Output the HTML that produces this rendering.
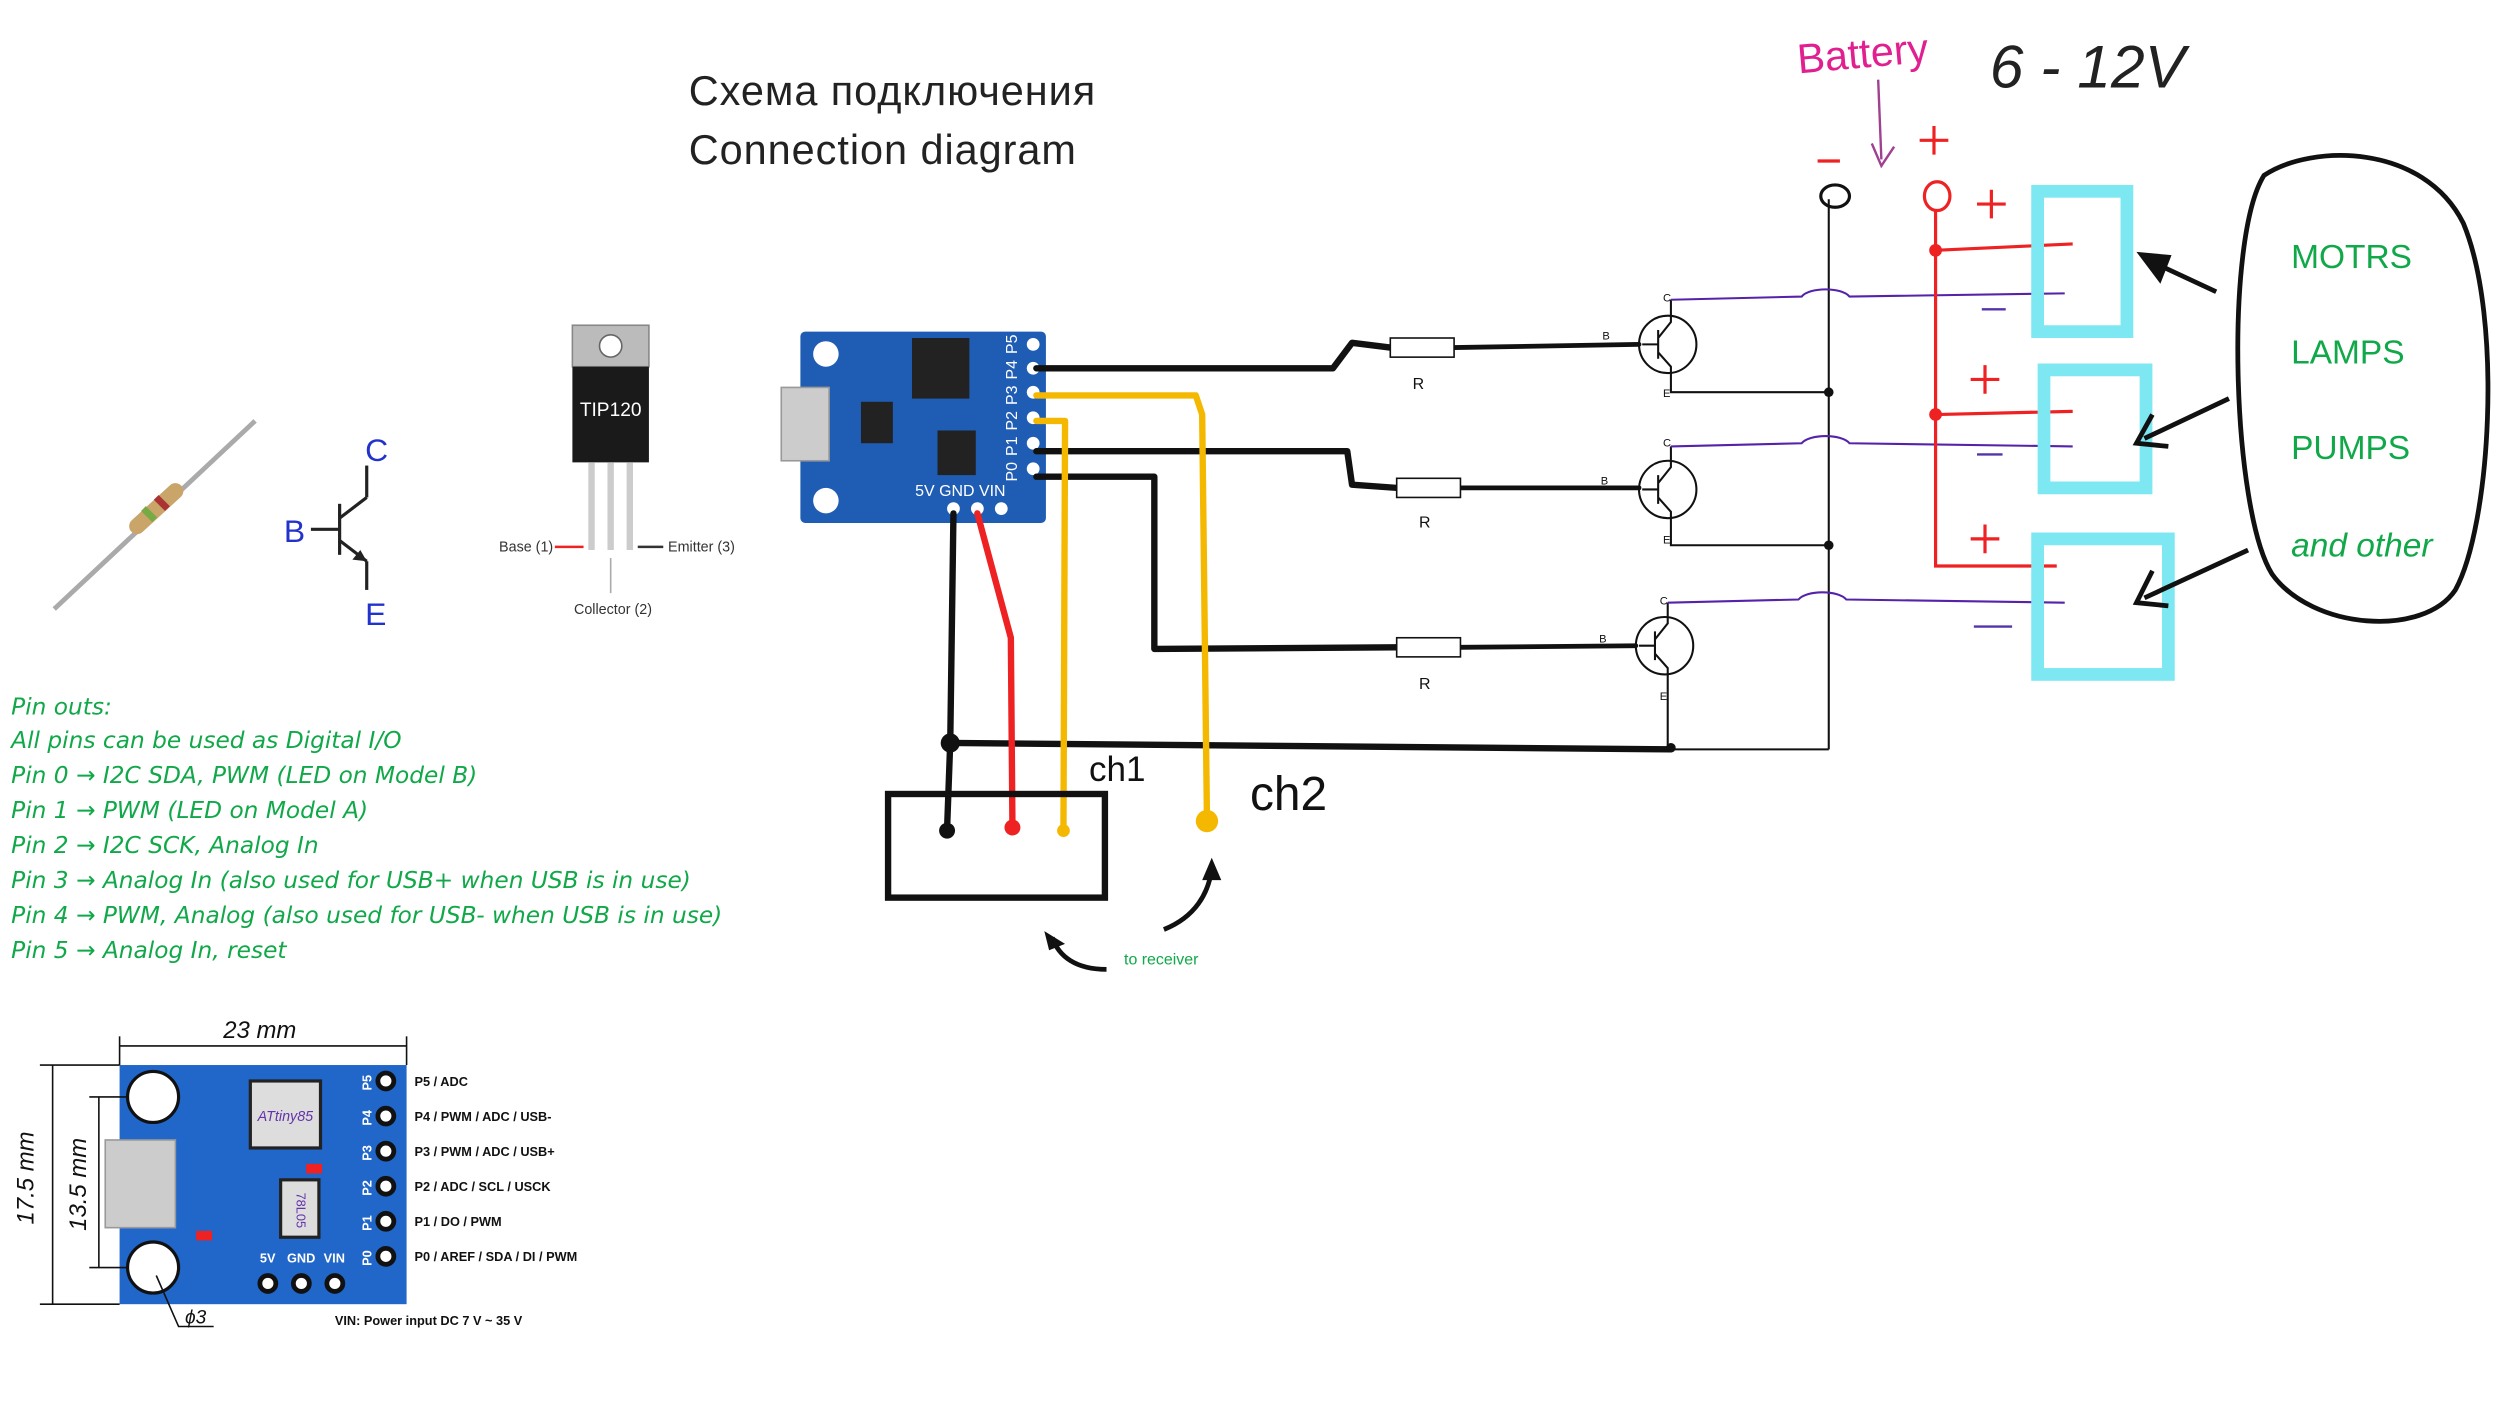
<!DOCTYPE html>
<html><head><meta charset="utf-8"><style>
html,body{margin:0;padding:0;background:#fff;}
svg{display:block}
text{font-family:"Liberation Sans",sans-serif}
.g{fill:#11a84a;font-family:"DejaVu Sans","Liberation Sans",sans-serif;font-size:14.6px;font-style:italic}
</style></head><body>
<svg width="2500" height="1404" viewBox="0 0 1568 880.6" xmlns="http://www.w3.org/2000/svg">
<rect width="1568" height="881" fill="#fff"/>
<!-- title -->
<text x="432" y="66" font-size="26" fill="#222" letter-spacing="0.6">Схема подключения</text>
<text x="432" y="103" font-size="26" fill="#222" letter-spacing="0.6">Connection diagram</text>

<!-- resistor image -->
<line x1="34" y1="382" x2="160" y2="264" stroke="#aaa" stroke-width="3"/>
<line x1="86" y1="330" x2="110" y2="308" stroke="#c9a56a" stroke-width="10" stroke-linecap="round"/>
<line x1="92" y1="324" x2="95" y2="321" stroke="#7a4" stroke-width="10"/>
<line x1="100" y1="317" x2="103" y2="314" stroke="#a33" stroke-width="10"/>

<!-- transistor symbol -->
<g stroke="#222" stroke-width="2" fill="none">
<line x1="195" y1="332" x2="213" y2="332"/>
<line x1="213" y1="316" x2="213" y2="348"/>
<line x1="213" y1="325" x2="230" y2="312"/><line x1="230" y1="312" x2="230" y2="292"/>
<line x1="213" y1="339" x2="230" y2="352"/><line x1="230" y1="352" x2="230" y2="370"/>
</g>
<polygon points="230,352 221,351 226,345" fill="#222"/>
<text x="229" y="289" font-size="20" fill="#2233cc">C</text>
<text x="178" y="340" font-size="20" fill="#2233cc">B</text>
<text x="229" y="392" font-size="20" fill="#2233cc">E</text>

<!-- TIP120 -->
<rect x="359" y="204" width="48" height="26" fill="#bbb" stroke="#888"/>
<circle cx="383" cy="217" r="7" fill="#fff" stroke="#666"/>
<rect x="359" y="230" width="48" height="60" fill="#1a1a1a"/>
<text x="383" y="261" font-size="12" fill="#fff" text-anchor="middle" font-family="Liberation Serif">TIP120</text>
<g stroke="#ccc" stroke-width="4"><line x1="371" y1="290" x2="371" y2="345"/><line x1="383" y1="290" x2="383" y2="345"/><line x1="395" y1="290" x2="395" y2="345"/></g>
<text x="313" y="346" font-size="9" fill="#333">Base (1)</text>
<line x1="348" y1="343" x2="366" y2="343" stroke="#e22" stroke-width="1.5"/>
<text x="419" y="346" font-size="9" fill="#333">Emitter (3)</text>
<line x1="400" y1="343" x2="416" y2="343" stroke="#333" stroke-width="1.5"/>
<text x="360" y="385" font-size="9" fill="#333">Collector (2)</text>
<line x1="383" y1="350" x2="383" y2="372" stroke="#aaa"/>

<!-- digispark board -->
<rect x="502" y="208" width="154" height="120" fill="#1f5db5" rx="3"/>
<rect x="490" y="243" width="30" height="46" fill="#ccc" stroke="#999"/>
<circle cx="518" cy="222" r="8" fill="#fff"/><circle cx="518" cy="314" r="8" fill="#fff"/>
<rect x="572" y="212" width="36" height="38" fill="#222"/>
<rect x="540" y="252" width="20" height="26" fill="#222"/>
<rect x="588" y="270" width="24" height="28" fill="#222"/>
<g fill="#fff"><circle cx="648" cy="216" r="4"/><circle cx="648" cy="231" r="4"/><circle cx="648" cy="246" r="4"/><circle cx="648" cy="262" r="4"/><circle cx="648" cy="278" r="4"/><circle cx="648" cy="294" r="4"/>
<circle cx="598" cy="319" r="4"/><circle cx="613" cy="319" r="4"/><circle cx="628" cy="319" r="4"/></g>
<g font-size="10" fill="#fff">
<text transform="translate(638,222) rotate(-90)">P5</text>
<text transform="translate(638,238) rotate(-90)">P4</text>
<text transform="translate(638,254) rotate(-90)">P3</text>
<text transform="translate(638,270) rotate(-90)">P2</text>
<text transform="translate(638,286) rotate(-90)">P1</text>
<text transform="translate(638,302) rotate(-90)">P0</text>
<text x="574" y="311">5V GND VIN</text></g>

<!-- wires -->
<g fill="none" stroke-linecap="round" stroke-linejoin="round">
<path d="M650,231 L836,231 L848,215 L872,218" stroke="#111" stroke-width="4"/>
<path d="M912,218 L1028,216" stroke="#111" stroke-width="3"/>
<path d="M650,283 L845,283 L848,304 L876,306" stroke="#111" stroke-width="4"/>
<path d="M916,306 L1028,306" stroke="#111" stroke-width="3"/>
<path d="M650,299 L724,299 L724,407 L876,406" stroke="#111" stroke-width="4"/>
<path d="M916,406 L1026,405" stroke="#111" stroke-width="3"/>
<path d="M598,322 L596,465 L594,520" stroke="#111" stroke-width="4"/>
<path d="M596,466 L1048,470" stroke="#111" stroke-width="4"/>
<path d="M613,322 L634,400 L635,518" stroke="#e22" stroke-width="4"/>
<path d="M650,248 L750,248 L754,260 L757,514" stroke="#f5b800" stroke-width="4"/>
<path d="M650,264 L668,264 L667,520" stroke="#f5b800" stroke-width="4"/>
</g>
<circle cx="594" cy="521" r="5" fill="#111"/><circle cx="635" cy="519" r="5" fill="#e22"/>
<circle cx="667" cy="521" r="4" fill="#f5b800"/><circle cx="757" cy="515" r="7" fill="#f5b800"/>
<circle cx="596" cy="466" r="6" fill="#111"/>
<rect x="557" y="498" width="136" height="65" fill="none" stroke="#111" stroke-width="4"/>
<text x="683" y="490" font-size="22" fill="#111" font-family="DejaVu Sans">ch1</text>
<text x="784" y="508" font-size="30" fill="#111" font-family="DejaVu Sans">ch2</text>
<path d="M694,608 C675,608 664,600 660,588" stroke="#111" stroke-width="3" fill="none"/>
<polygon points="655,584 668,592 658,596" fill="#111"/>
<path d="M730,583 C750,575 758,560 760,545" stroke="#111" stroke-width="3" fill="none"/>
<polygon points="760,538 766,552 754,552" fill="#111"/>
<text x="705" y="605" font-size="10" fill="#11a84a">to    receiver</text>

<!-- resistors -->
<g fill="#fff" stroke="#111" stroke-width="1"><rect x="872" y="212" width="40" height="12"/><rect x="876" y="300" width="40" height="12"/><rect x="876" y="400" width="40" height="12"/></g>
<g font-size="10" fill="#111" font-family="Liberation Serif"><text x="886" y="244">R</text><text x="890" y="331">R</text><text x="890" y="432">R</text></g>

<!-- transistors -->
<g fill="none" stroke="#111" stroke-width="1.3">
<circle cx="1046" cy="216" r="18"/><circle cx="1046" cy="307" r="18"/><circle cx="1044" cy="405" r="18"/>
<path d="M1030,216 H1040 M1040,207 V225 M1040,212 L1048,202 V188 M1040,221 L1048,230 V246 H1147"/>
<path d="M1030,307 H1040 M1040,298 V316 M1040,303 L1048,293 V280 M1040,312 L1048,321 V342 H1147"/>
<path d="M1028,405 H1038 M1038,396 V414 M1038,401 L1046,391 V378 M1038,410 L1046,419 V468"/>
<line x1="1147" y1="125" x2="1147" y2="470"/>
<line x1="1048" y1="470" x2="1147" y2="470"/>
</g>
<g font-size="7" fill="#111"><text x="1043" y="189">C</text><text x="1005" y="213">B</text><text x="1043" y="249">E</text>
<text x="1043" y="280">C</text><text x="1004" y="304">B</text><text x="1043" y="341">E</text>
<text x="1041" y="379">C</text><text x="1003" y="403">B</text><text x="1041" y="439">E</text></g>
<circle cx="1147" cy="246" r="3" fill="#111"/><circle cx="1147" cy="342" r="3" fill="#111"/><circle cx="1048" cy="469" r="3" fill="#111"/>
<ellipse cx="1151" cy="123" rx="9" ry="7" fill="none" stroke="#111" stroke-width="2"/>

<!-- purple collector wires -->
<g fill="none" stroke="#5522aa" stroke-width="1.3">
<path d="M1048,188 L1130,186 C1135,180 1155,180 1160,186 L1295,184"/>
<path d="M1048,280 L1130,278 C1135,272 1155,272 1160,278 L1300,280"/>
<path d="M1046,378 L1128,376 C1133,370 1153,370 1158,376 L1295,378"/>
</g>

<!-- red + line -->
<g fill="none" stroke="#e22" stroke-width="2">
<ellipse cx="1215" cy="123" rx="8" ry="9"/>
<path d="M1214,132 L1214,355 L1290,355"/>
<path d="M1214,157 L1300,153 M1214,260 L1300,258"/>
<path d="M1204,88 H1222 M1213,79 V97"/>
<path d="M1240,128 H1258 M1249,119 V137"/>
<path d="M1236,238 H1254 M1245,229 V247"/>
<path d="M1236,338 H1254 M1245,329 V347"/>
</g>
<circle cx="1214" cy="157" r="4" fill="#e22"/><circle cx="1214" cy="260" r="4" fill="#e22"/>
<g stroke="#5533aa" stroke-width="1.5"><line x1="1243" y1="194" x2="1258" y2="194"/><line x1="1240" y1="285" x2="1256" y2="285"/><line x1="1238" y1="393" x2="1262" y2="393"/></g>
<line x1="1140" y1="101" x2="1154" y2="101" stroke="#e22" stroke-width="2"/>

<!-- cyan loads -->
<g fill="none" stroke="#7ee8f2" stroke-width="8">
<rect x="1278" y="120" width="56" height="88"/>
<rect x="1282" y="232" width="64" height="74"/>
<rect x="1278" y="338" width="82" height="85"/>
</g>

<!-- battery -->
<text x="1128" y="46" font-size="26" fill="#e02090" font-family="DejaVu Sans" transform="rotate(-5 1128 46)">Battery</text>
<path d="M1178,50 L1180,100 M1174,90 L1180,104 L1188,92" stroke="#a04090" stroke-width="1.5" fill="none"/>
<text x="1248" y="55" font-size="38" fill="#222" font-family="DejaVu Sans" font-style="italic">6 - 12V</text>

<!-- arrows to loads -->
<path d="M1390,183 L1345,162" stroke="#111" stroke-width="3"/><polygon points="1340,158 1362,160 1355,178" fill="#111"/>
<path d="M1398,250 L1345,275" stroke="#111" stroke-width="3" fill="none"/><path d="M1350,260 L1340,278 L1360,280" stroke="#111" stroke-width="3" fill="none"/>
<path d="M1410,345 L1345,375" stroke="#111" stroke-width="3" fill="none"/><path d="M1350,358 L1340,378 L1360,380" stroke="#111" stroke-width="3" fill="none"/>

<!-- green blob -->
<path d="M1420,110 C1450,90 1520,90 1545,140 C1570,200 1562,330 1540,370 C1520,400 1450,395 1425,360 C1400,320 1395,150 1420,110 Z" fill="none" stroke="#111" stroke-width="3"/>
<g fill="#11a84a" font-family="DejaVu Sans" font-size="21"><text x="1437" y="168">MOTRS</text><text x="1437" y="228">LAMPS</text><text x="1437" y="288">PUMPS</text><text x="1437" y="349" font-style="italic">and other</text></g>

<!-- pin outs -->
<text class="g" x="7" y="448">Pin outs:</text>
<text class="g" x="7" y="469">All pins can be used as Digital I/O</text>
<text class="g" x="7" y="491">Pin 0 → I2C SDA, PWM (LED on Model B)</text>
<text class="g" x="7" y="513">Pin 1 → PWM (LED on Model A)</text>
<text class="g" x="7" y="535">Pin 2 → I2C SCK, Analog In</text>
<text class="g" x="7" y="557">Pin 3 → Analog In (also used for USB+ when USB is in use)</text>
<text class="g" x="7" y="579">Pin 4 → PWM, Analog (also used for USB- when USB is in use)</text>
<text class="g" x="7" y="601">Pin 5 → Analog In, reset</text>

<!-- bottom board -->
<rect x="75" y="668" width="180" height="150" fill="#2166c9"/>
<rect x="66" y="715" width="44" height="55" fill="#ccc" stroke="#999"/>
<circle cx="96" cy="688" r="16" fill="#fff" stroke="#111" stroke-width="2"/>
<circle cx="96" cy="795" r="16" fill="#fff" stroke="#111" stroke-width="2"/>
<rect x="157" y="678" width="44" height="42" fill="#ddd" stroke="#222" stroke-width="2"/>
<text x="179" y="703" font-size="9" fill="#6633aa" text-anchor="middle" font-style="italic">ATtiny85</text>
<rect x="176" y="740" width="24" height="36" fill="#ddd" stroke="#222" stroke-width="2"/>
<text transform="translate(186,748) rotate(90)" font-size="8" fill="#6633aa">78L05</text>
<rect x="123" y="772" width="10" height="6" fill="#e22"/><rect x="192" y="730" width="10" height="6" fill="#e22"/>
<g fill="#fff" stroke="#111" stroke-width="3"><circle cx="242" cy="678" r="5"/><circle cx="242" cy="700" r="5"/><circle cx="242" cy="722" r="5"/><circle cx="242" cy="744" r="5"/><circle cx="242" cy="766" r="5"/><circle cx="242" cy="788" r="5"/>
<circle cx="168" cy="805" r="5"/><circle cx="189" cy="805" r="5"/><circle cx="210" cy="805" r="5"/></g>
<g font-size="8" fill="#fff" font-weight="bold"><text x="163" y="792">5V</text><text x="180" y="792">GND</text><text x="203" y="792">VIN</text>
<text transform="translate(233,684) rotate(-90)">P5</text><text transform="translate(233,706) rotate(-90)">P4</text><text transform="translate(233,728) rotate(-90)">P3</text><text transform="translate(233,750) rotate(-90)">P2</text><text transform="translate(233,772) rotate(-90)">P1</text><text transform="translate(233,794) rotate(-90)">P0</text></g>
<g font-size="8" fill="#111" font-weight="bold"><text x="260" y="681">P5 / ADC</text><text x="260" y="703">P4 / PWM / ADC / USB-</text><text x="260" y="725">P3 / PWM / ADC / USB+</text><text x="260" y="747">P2 / ADC / SCL / USCK</text><text x="260" y="769">P1 / DO / PWM</text><text x="260" y="791">P0 / AREF / SDA / DI / PWM</text><text x="210" y="831">VIN: Power input DC 7 V ~ 35 V</text></g>
<g stroke="#111" stroke-width="1" fill="none"><line x1="75" y1="656" x2="255" y2="656"/><line x1="75" y1="650" x2="75" y2="668"/><line x1="255" y1="650" x2="255" y2="668"/>
<line x1="33" y1="668" x2="33" y2="818"/><line x1="25" y1="668" x2="75" y2="668"/><line x1="25" y1="818" x2="75" y2="818"/>
<line x1="62" y1="688" x2="62" y2="795"/><line x1="56" y1="688" x2="80" y2="688"/><line x1="56" y1="795" x2="80" y2="795"/>
<path d="M98,800 L112,832 H134"/></g>
<text x="140" y="651" font-size="15" fill="#111" font-style="italic">23 mm</text>
<text transform="translate(21,768) rotate(-90)" font-size="15" fill="#111" font-style="italic">17.5 mm</text>
<text transform="translate(54,772) rotate(-90)" font-size="15" fill="#111" font-style="italic">13.5 mm</text>
<text x="116" y="830" font-size="12" fill="#111" font-style="italic">ϕ3</text>
</svg>
</body></html>
